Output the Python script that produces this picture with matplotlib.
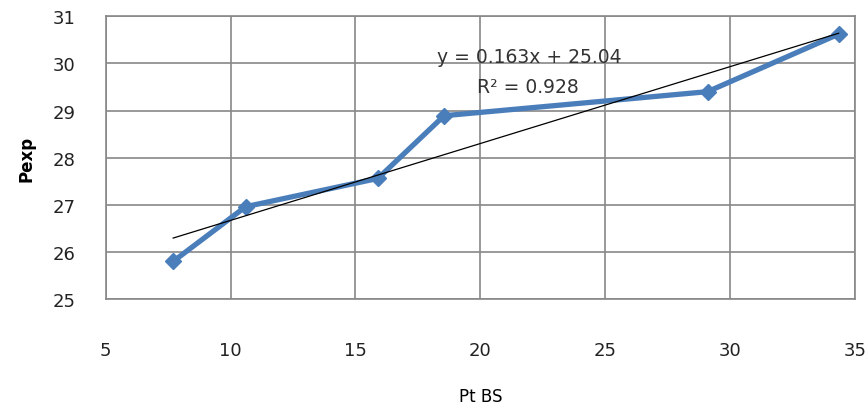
import numpy as np
import matplotlib.pyplot as plt

pt_bs = [7.7, 10.6, 15.9, 18.55, 29.1, 34.35]
pexp = [25.8, 26.96, 27.56, 28.89, 29.4, 30.62]
slope = 0.163
intercept = 25.04
r2 = 0.928

plt.rcParams['font.family'] = ['DejaVu Sans']

fig = plt.figure(figsize=(8.67, 4.10), dpi=100)
ax = fig.add_axes([0.122, 0.268, 0.864, 0.690])

ax.plot(pt_bs, pexp, color='#4A7EBB', linewidth=3.8, marker='D',
        markersize=8, zorder=3)

xt = np.array([min(pt_bs), max(pt_bs)])
ax.plot(xt, slope * xt + intercept, color='black', linewidth=0.9, zorder=4)

ax.text(21.95, 30.15, f'y = {slope}x + {intercept:.2f}', ha='center',
        va='center', fontsize=13.5, color='#333333')
ax.text(21.9, 29.5, f'R² = {r2}', ha='center', va='center', fontsize=13.5,
        color='#333333')

ax.set_xlim(5, 35)
ax.set_ylim(25, 31)
ax.set_xticks(np.arange(5, 36, 5))
ax.set_yticks(np.arange(25, 32, 1))
ax.grid(True, color='#888888', linewidth=1.2)
ax.set_axisbelow(True)
for s in ax.spines.values():
    s.set_color('#888888')
    s.set_linewidth(1.2)
ax.tick_params(length=0, labelsize=13, colors='#222222')
ax.tick_params(axis='x', pad=30)
ax.tick_params(axis='y', pad=22)

ax.set_xlabel('Pt BS', fontsize=12, labelpad=20)
ax.set_ylabel('Pexp', fontsize=12, fontweight='bold', labelpad=12)

fig.savefig('out.png', dpi=100)
